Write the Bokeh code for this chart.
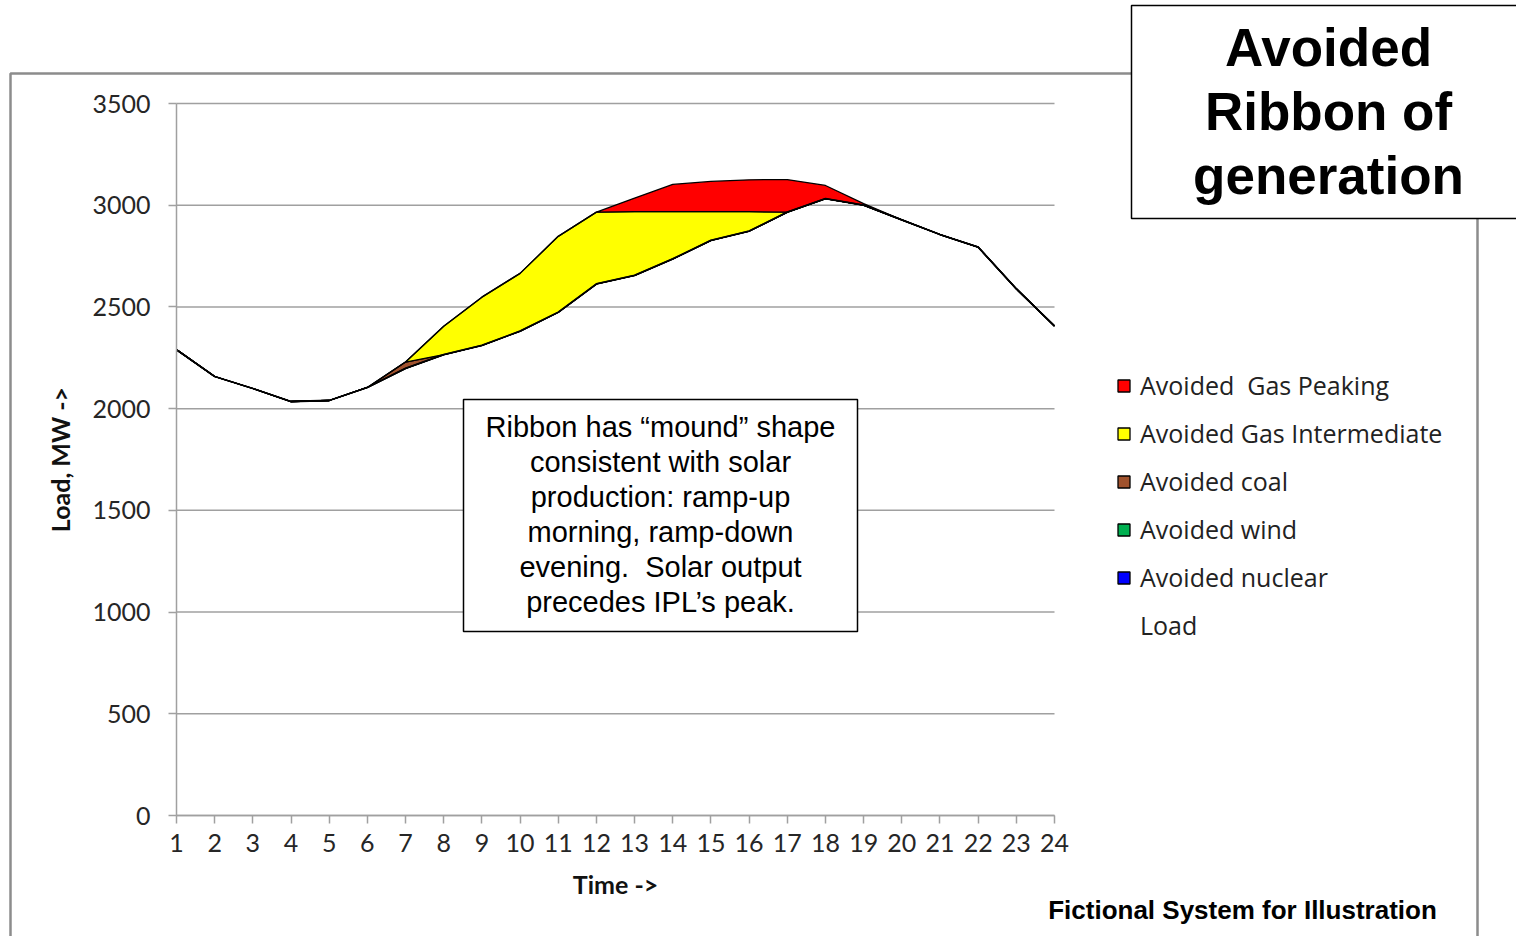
from bokeh.plotting import figure
from bokeh.models import Range1d, FixedTicker, Legend, LegendItem, Label, BoxAnnotation
from bokeh.embed import file_html
from bokeh.resources import INLINE

# ---------------- data ----------------
hours = [1, 2, 3, 4, 5, 6, 7, 8, 9, 10, 11, 12, 13, 14, 15, 16, 17, 18, 19, 20, 21, 22, 23, 24]
net_load = [2290, 2158, 2099, 2035, 2040, 2104, 2198, 2266, 2311, 2381, 2474, 2613,
            2655, 2736, 2827, 2873, 2966, 3032, 3000, 2928, 2856, 2794, 2589, 2406]
avoided_nuclear = [0, 0, 0, 0, 0, 0, 0, 0, 0, 0, 0, 0, 0, 0, 0, 0, 0, 0, 0, 0, 0, 0, 0, 0]
avoided_wind = [0, 0, 0, 0, 0, 0, 0, 0, 0, 0, 0, 0, 0, 0, 0, 0, 0, 0, 0, 0, 0, 0, 0, 0]
avoided_coal = [0, 0, 0, 0, 0, 0, 31, 0, 0, 0, 0, 0, 0, 0, 0, 0, 0, 0, 0, 0, 0, 0, 0, 0]
avoided_gas_int = [0, 0, 0, 0, 0, 0, 0, 139, 237, 284, 373, 353,
                   313, 232, 141, 95, 0, 0, 0, 0, 0, 0, 0, 0]
avoided_gas_peak = [0, 0, 0, 0, 0, 0, 0, 0, 0, 0, 0, 0,
                    67, 134, 149, 157, 160, 65, 8, 0, 0, 0, 0, 0]
y_ticks = [0, 500, 1000, 1500, 2000, 2500, 3000, 3500]

series = [
    ("Avoided nuclear", avoided_nuclear, "#0000ff"),
    ("Avoided wind", avoided_wind, "#00b050"),
    ("Avoided coal", avoided_coal, "#a0522d"),
    ("Avoided Gas Intermediate", avoided_gas_int, "#ffff00"),
    ("Avoided  Gas Peaking", avoided_gas_peak, "#ff0000"),
]

note_lines = ["Ribbon has \u201cmound\u201d shape", "consistent with solar",
              "production: ramp-up", "morning, ramp-down",
              "evening.\u00a0 Solar output", "precedes IPL\u2019s peak."]
title_lines = ["Avoided", "Ribbon of", "generation"]
footer = "Fictional System for Illustration"

# ---------------- layout constants (screen px) ----------------
W, H = 1516, 936
PX_L, PX_R = 176, 1054     # x = 1 and x = 24
PX_T, PX_B = 103, 815      # y = 3500 and y = 0
kx = (PX_R - PX_L) / (hours[-1] - hours[0])
ky = (PX_B - PX_T) / (y_ticks[-1] - y_ticks[0])
x_range = Range1d(hours[0] - PX_L / kx, hours[-1] + (W - PX_R) / kx)
y_range = Range1d(y_ticks[0] - (H - PX_B) / ky, y_ticks[-1] + PX_T / ky)

p = figure(width=W, height=H, output_backend="svg", toolbar_location=None,
           x_range=x_range, y_range=y_range, min_border=0)
p.outline_line_color = None
p.background_fill_color = "white"
p.border_fill_color = "white"


def sy(y):  # screen px (from top) -> frame-relative y (from bottom)
    return H - y


def box(l, r, t, b, **kw):
    return BoxAnnotation(left=l, right=r, top=sy(t), bottom=sy(b),
                         left_units="screen", right_units="screen",
                         top_units="screen", bottom_units="screen", **kw)


# outer gray frame
p.add_layout(box(10, 1477, 73, 960, fill_alpha=0, line_color="#8c8c8c",
                 line_alpha=1, line_width=2.5))

# horizontal gridlines
p.segment(x0=[hours[0]] * len(y_ticks), x1=[hours[-1]] * len(y_ticks),
          y0=y_ticks, y1=y_ticks, line_color="#a0a0a0", line_width=1.5)

# Load base area (no fill) + line
load_r = p.varea(x=hours, y1=[0] * len(hours), y2=net_load, fill_alpha=0)

bottom = list(net_load)
legend_map = {}
for name, vals, col in series:
    top = [b + v for b, v in zip(bottom, vals)]
    xs = hours + hours[::-1]
    ys = top + bottom[::-1]
    r = p.patch(xs, ys, fill_color=col, line_color="black", line_width=1.3)
    legend_map[name] = r
    bottom = top

p.line(hours, net_load, line_color="black", line_width=1.8)

# axes
for ax in (p.xaxis[0], p.yaxis[0]):
    ax.axis_line_color = "#a0a0a0"
    ax.axis_line_width = 1.5
    ax.major_tick_line_color = "#a0a0a0"
    ax.major_tick_line_width = 1.5
    ax.major_tick_out = 8
    ax.major_tick_in = 0
    ax.minor_tick_line_color = None
    ax.major_label_text_font = "Lato"
    ax.major_label_text_font_size = "25px"
    ax.major_label_text_color = "#262626"
    ax.axis_label_text_font = "Lato"
    ax.axis_label_text_font_style = "bold"
    ax.axis_label_text_font_size = "25px"
    ax.axis_label_text_color = "#111111"

p.xaxis.fixed_location = y_ticks[0]
p.yaxis.fixed_location = hours[0]
p.xaxis.bounds = (hours[0], hours[-1])
p.yaxis.bounds = (y_ticks[0], y_ticks[-1])
p.xaxis.ticker = FixedTicker(ticks=hours)
p.yaxis.ticker = FixedTicker(ticks=y_ticks)
p.xaxis.axis_label = "Time ->"
p.yaxis.axis_label = "Load, MW ->"
p.xaxis.major_label_standoff = 10
p.yaxis.major_label_standoff = 18
p.xaxis.axis_label_standoff = 14
p.yaxis.axis_label_standoff = 14
p.xgrid.visible = False
p.ygrid.visible = False

# legend
items = [LegendItem(label=n, renderers=[legend_map[n]]) for n, _, _ in series[::-1]]
items.append(LegendItem(label="Load", renderers=[load_r]))
legend = Legend(items=items, location=(1116, sy(642)),
                glyph_width=15, glyph_height=15, label_standoff=9,
                label_height=28, spacing=14, padding=0, margin=0,
                border_line_alpha=0, background_fill_alpha=0,
                label_text_font="Open Sans", label_text_font_size="25px",
                label_text_color="#222222")
p.add_layout(legend)

# note box
p.add_layout(box(463, 857, 399, 631, fill_color="white", fill_alpha=1,
                 line_color="black", line_alpha=1, line_width=1.5))
for i, t in enumerate(note_lines):
    p.add_layout(Label(x=660, y=sy(426 + 35 * i), x_units="screen", y_units="screen",
                       text=t, text_align="center", text_baseline="alphabetic",
                       text_font="Liberation Sans", text_font_size="29px",
                       text_color="black"))

# title box
p.add_layout(box(1131, 1540, 5, 218, fill_color="white", fill_alpha=1,
                 line_color="black", line_alpha=1, line_width=1.5))
for i, t in enumerate(title_lines):
    p.add_layout(Label(x=1328, y=sy(47 + 64 * i), x_units="screen", y_units="screen",
                       text=t, text_align="center", text_baseline="alphabetic",
                       text_font="Liberation Sans", text_font_style="bold",
                       text_font_size="53px", text_color="black"))

p.add_layout(Label(x=1242, y=sy(909), x_units="screen", y_units="screen",
                   text=footer, text_align="center", text_baseline="alphabetic",
                   text_font="Liberation Sans", text_font_style="bold",
                   text_font_size="26px", text_color="black"))

open("out.html", "w").write(file_html(p, INLINE))
